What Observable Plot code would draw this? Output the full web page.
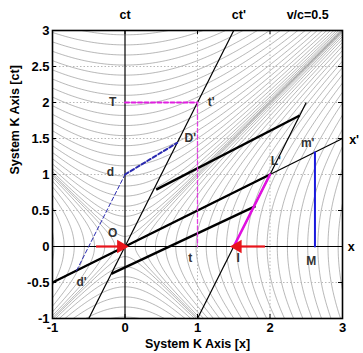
<!DOCTYPE html>
<html><head><meta charset="utf-8">
<script src="https://cdn.jsdelivr.net/npm/d3@7"></script>
<script src="https://cdn.jsdelivr.net/npm/@observablehq/plot@0.6"></script>
<style>body{margin:0;background:#fff}</style>
</head><body><div id="chart"></div>
<script>
// ---- data ----
const xTicks = [-1, 0, 1, 2, 3];
const yTicks = [-1, -0.5, 0, 0.5, 1, 1.5, 2, 2.5, 3];
const xGrid = [1, 2];
const yGrid = [-0.5, 0.5, 1, 1.5, 2, 2.5];
// hyperbola parameters (x^2 - t^2 = ±a^2)
const hyperbolaA = [0.14, 0.28, 0.42, 0.56, 0.70, 0.84, 0.98, 1.12, 1.26, 1.40, 1.54,
                    1.68, 1.82, 1.96, 2.10, 2.24, 2.38, 2.52, 2.66, 2.80, 2.94];
// axes of K and K' and the ct'-parallel through I
const axisX1 = [0, -1, -0.5, -1, 1];
const axisY1 = [-1, 0, -1, -0.5, -1];
const axisX2 = [0, 3, 1.5, 3, 2.5];
const axisY2 = [3, 0, 3, 1.5, 2];
// thick rods (parallel to x')
const rodX1 = [-1, 0.43, -0.19];
const rodY1 = [-0.5, 0.79, -0.38];
const rodX2 = [2, 2.41, 1.8];
const rodY2 = [1, 1.82, 0.56];
// blue dashed path d' -> d -> D'
const blueDashX = [-0.667, 0, 0.72];
const blueDashY = [-0.333, 1, 1.44];
// magenta dashed path T -> t' -> t
const magDashX = [0, 1, 1];
const magDashY = [2, 2, 0];
// magenta solid I -> L'
const magX = [1.5, 2];
const magY = [0, 1];
// blue rod M -> m'
const blueX = [2.62, 2.62];
const blueY = [0, 1.31];
// red arrows (start, tip)
const arrowRightX = [-0.4, 0];
const arrowLeftX = [1.93, 1.5];
const arrowY = 0;
// point labels
const pointLabels = ["T", "t'", "D'", "d", "O", "d'", "t", "I", "M", "L'", "m'"];
const pointX = [-0.17, 1.19, 0.9, -0.2, -0.17, -0.6, 0.9, 1.56, 2.57, 2.08, 2.52];
const pointY = [2.0, 2.0, 1.5, 1.03, 0.18, -0.49, -0.16, -0.16, -0.2, 1.19, 1.44];
// outer labels
const outerLabels = ["ct", "ct'", "v/c=0.5", "x", "x'"];
const outerX = [0, 1.57, 2.52, 3.12, 3.16];
const outerY = [3.22, 3.22, 3.22, 0, 1.48];

// ---- build ----
const curves = [];
const tSamples = d3.range(-1, 3.0001, 0.02);
const xSamples = d3.range(-1, 3.0001, 0.02);
hyperbolaA.forEach((a, i) => {
  tSamples.forEach(t => curves.push({id: "R" + i, x: Math.sqrt(t * t + a * a), y: t}));
  tSamples.forEach(t => curves.push({id: "L" + i, x: -Math.sqrt(t * t + a * a), y: t}));
  xSamples.forEach(x => curves.push({id: "T" + i, x: x, y: Math.sqrt(x * x + a * a)}));
  xSamples.forEach(x => curves.push({id: "B" + i, x: x, y: -Math.sqrt(x * x + a * a)}));
});
const axisSeg = axisX1.map((_, i) => ({x1: axisX1[i], y1: axisY1[i], x2: axisX2[i], y2: axisY2[i]}));
const rodSeg = rodX1.map((_, i) => ({x1: rodX1[i], y1: rodY1[i], x2: rodX2[i], y2: rodY2[i]}));
const bluePath = blueDashX.map((x, i) => ({x, y: blueDashY[i]}));
const magPath = magDashX.map((x, i) => ({x, y: magDashY[i]}));
const magSolid = magX.map((x, i) => ({x, y: magY[i]}));
const blueSolid = blueX.map((x, i) => ({x, y: blueY[i]}));
const arrR = [{x1: arrowRightX[0], x2: arrowRightX[1], y: arrowY}];
const arrL = [{x1: arrowLeftX[0], x2: arrowLeftX[1], y: arrowY}];
const pts = pointLabels.map((l, i) => ({l, x: pointX[i], y: pointY[i]}));
const outer = outerLabels.map((l, i) => ({l, x: outerX[i], y: outerY[i]}));

const W = 363, H = 353, mL = 52, mR = 21, mT = 30, mB = 35;
const pw = W - mL - mR, ph = H - mT - mB;
const fmt = d => String(d);
const red = "#e8141b";

const chart = Plot.plot({
  width: W, height: H,
  marginLeft: mL, marginRight: mR, marginTop: mT, marginBottom: mB,
  style: {fontFamily: "Liberation Sans, Arial, sans-serif", fontSize: "12px", background: "#fff", color: "#000"},
  x: {domain: [-1, 3]},
  y: {domain: [-1, 3]},
  marks: [
    Plot.line(curves, {x: "x", y: "y", z: "id", stroke: "#7a7a7a", strokeWidth: 0.55, clip: true}),
    Plot.ruleX(xGrid, {stroke: "#b8b8b8", strokeDasharray: "1.5,2", strokeWidth: 1}),
    Plot.ruleY(yGrid, {stroke: "#b8b8b8", strokeDasharray: "1.5,2", strokeWidth: 1}),
    Plot.link(axisSeg, {x1: "x1", y1: "y1", x2: "x2", y2: "y2", stroke: "#000", strokeWidth: 1.2}),
    Plot.link(rodSeg, {x1: "x1", y1: "y1", x2: "x2", y2: "y2", stroke: "#000", strokeWidth: 2.4}),
    Plot.line(bluePath.slice(0, 2), {x: "x", y: "y", stroke: "#2a2ab0", strokeWidth: 1, strokeDasharray: "4,2.5"}),
    Plot.line(bluePath.slice(1), {x: "x", y: "y", stroke: "#2a2ab0", strokeWidth: 2, strokeDasharray: "4,2.5"}),
    Plot.line(magPath.slice(0, 2), {x: "x", y: "y", stroke: "#e020e0", strokeWidth: 2, strokeDasharray: "4,2.5"}),
    Plot.line(magPath.slice(1), {x: "x", y: "y", stroke: "#e040e0", strokeWidth: 1.3, strokeDasharray: "4,2.5"}),
    Plot.line(magSolid, {x: "x", y: "y", stroke: "#e010e0", strokeWidth: 2.6}),
    Plot.line(blueSolid, {x: "x", y: "y", stroke: "#1a1add", strokeWidth: 2}),
    Plot.link(arrR, {x1: "x1", x2: "x2", y1: "y", y2: "y", stroke: red, strokeWidth: 2.2}),
    Plot.link(arrL, {x1: "x1", x2: "x2", y1: "y", y2: "y", stroke: red, strokeWidth: 2.2}),
    Plot.dot(arrR, {x: "x2", y: "y", symbol: "triangle", r: 5, fill: red, stroke: "none", rotate: 90, dx: -4}),
    Plot.dot(arrL, {x: "x2", y: "y", symbol: "triangle", r: 5, fill: red, stroke: "none", rotate: -90, dx: 4}),
    Plot.text(pts, {x: "x", y: "y", text: "l", fontSize: 12, fontWeight: "bold", fill: "#333"}),
    Plot.text(outer, {x: "x", y: "y", text: "l", fontSize: 12.5, fontWeight: "bold", fill: "#000"}),
    // inward ticks
    Plot.tickY(yTicks, {y: d => d, insetRight: pw - 4, stroke: "#000"}),
    Plot.tickY(yTicks, {y: d => d, insetLeft: pw - 4, stroke: "#000"}),
    Plot.tickX(xTicks, {x: d => d, insetTop: ph - 4, stroke: "#000"}),
    Plot.tickX(xTicks, {x: d => d, insetBottom: ph - 4, stroke: "#000"}),
    Plot.frame({stroke: "#000", strokeWidth: 1.6}),
    Plot.axisX(xTicks, {tickSize: 0, tickPadding: 4, fontSize: 13, fontWeight: "bold", label: null, tickFormat: fmt}),
    Plot.axisY(yTicks, {tickSize: 0, tickPadding: 3, fontSize: 13, fontWeight: "bold", label: null, tickFormat: fmt}),
    Plot.text(["System K Axis [x]"], {frameAnchor: "bottom", dy: 29, fontSize: 12.5, fontWeight: "bold"}),
    Plot.text(["System K Axis [ct]"], {frameAnchor: "left", dx: -38, rotate: -90, fontSize: 12.5, fontWeight: "bold"})
  ]
});
document.getElementById("chart").appendChild(chart);
</script>
</body></html>
